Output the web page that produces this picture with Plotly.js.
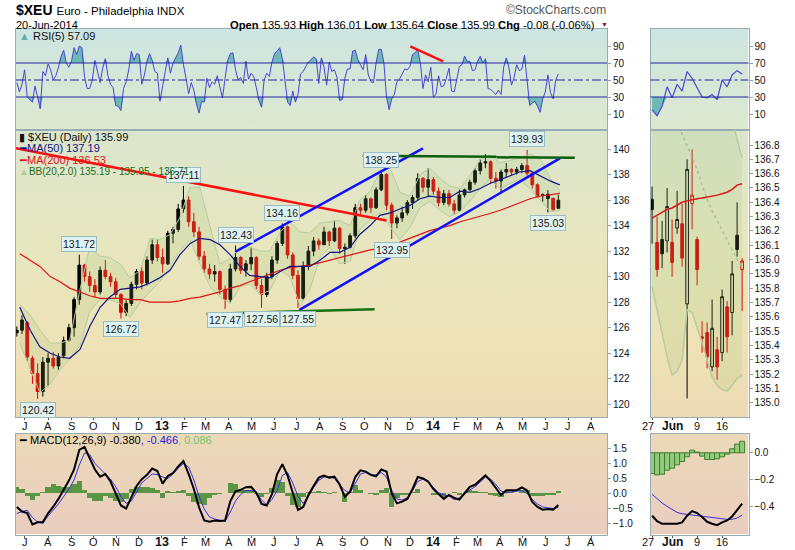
<!DOCTYPE html>
<html lang="en">
<head>
  <meta charset="UTF-8">
  <title>$XEU Euro - Philadelphia INDX</title>
  <script src="https://cdn.plot.ly/plotly-3.0.1.min.js"></script>
  <style>
    body { margin: 0; background: #ffffff; }
    #chart { width: 795px; height: 550px; }
  </style>
</head>
<body>
  <div id="chart"></div>
  <script>
    // weekly candles, one per week (dated on the Wednesday) from 20-Jun-2012 to 18-Jun-2014
    const weekStart = '2012-06-20';
    const wkOpen = [
      125.6, 125.8, 126.4, 123.6, 122.4, 121.0, 123.3, 123.6, 123.0, 123.8,
      125.0, 126.0, 128.2, 130.9, 130.0, 129.3, 128.8, 130.5, 130.0, 129.6,
      128.6, 127.2, 127.9, 129.4, 130.4, 129.5, 131.3, 132.5, 131.5, 131.0,
      133.4, 133.7, 135.3, 136.0, 134.3, 133.5, 131.6, 130.6, 130.2, 130.4,
      129.0, 128.2, 130.6, 131.5, 130.5, 131.0, 131.5, 129.3, 128.6, 130.0,
      131.3, 132.6, 133.9, 131.7, 130.1, 128.3, 130.8, 132.0, 132.8, 132.5,
      133.5, 132.8, 133.8, 132.2, 132.3, 133.2, 135.4, 135.2, 136.1, 135.4,
      136.8, 138.0, 135.6, 134.2, 134.6, 135.0, 135.8, 136.2, 137.7, 137.0,
      137.6, 136.7, 135.8, 136.5, 135.7, 135.2, 136.4, 136.8, 137.4, 138.3,
      138.9, 139.0, 137.7, 137.5, 138.2, 138.4, 138.2, 138.4, 138.7, 138.1,
      137.2, 136.42, 136.12, 136.14, 135.35
    ];
    const wkHigh = [
      126.1, 127.0, 126.5, 123.8, 123.2, 123.7, 124.0, 124.1, 124.0, 125.3,
      126.3, 128.4, 131.72, 131.0, 130.4, 129.8, 130.8, 131.3, 130.3, 129.9,
      128.7, 128.2, 129.6, 130.6, 130.8, 131.6, 132.9, 132.9, 132.2, 133.6,
      133.9, 135.7, 137.11, 136.3, 135.0, 133.9, 132.0, 131.0, 130.9, 130.5,
      129.3, 131.0, 132.43, 131.6, 131.3, 132.3, 131.6, 129.8, 130.3, 131.6,
      132.8, 134.16, 134.0, 131.9, 130.5, 131.2, 132.4, 133.1, 133.0, 133.9,
      133.6, 134.4, 133.9, 132.6, 133.4, 135.7, 135.7, 136.4, 136.2, 137.0,
      138.25, 138.1, 135.8, 134.8, 135.5, 136.0, 136.4, 138.1, 137.8, 138.5,
      137.8, 137.0, 136.8, 136.8, 136.0, 136.8, 136.9, 137.6, 138.5, 139.2,
      139.6, 139.1, 138.2, 138.4, 138.9, 138.5, 138.6, 138.9, 139.93, 138.2,
      137.3, 136.52, 136.78, 136.16, 136.40
    ];
    const wkLow = [
      125.3, 125.5, 123.4, 121.6, 120.42, 120.6, 121.4, 122.8, 122.7, 123.6,
      124.9, 125.3, 127.8, 129.6, 128.8, 128.4, 128.6, 129.8, 129.2, 128.3,
      126.72, 126.9, 127.7, 129.0, 129.0, 129.3, 131.0, 131.2, 130.3, 130.9,
      132.6, 133.5, 135.0, 133.9, 133.1, 131.3, 130.3, 129.8, 129.6, 128.6,
      127.47, 128.0, 130.4, 130.2, 130.0, 130.5, 129.0, 127.56, 128.4, 129.8,
      131.0, 132.4, 131.4, 129.8, 127.55, 128.2, 130.5, 131.6, 132.1, 132.5,
      132.4, 132.7, 131.8, 131.0, 132.2, 133.0, 134.9, 135.0, 135.0, 135.3,
      136.7, 135.2, 132.95, 133.8, 134.3, 134.8, 135.3, 136.0, 136.6, 136.3,
      136.4, 135.5, 135.6, 135.5, 134.9, 135.1, 136.2, 136.7, 137.2, 138.0,
      138.5, 137.3, 136.9, 136.6, 137.8, 137.9, 138.0, 138.1, 137.9, 136.9,
      136.2, 135.88, 135.03, 135.17, 135.30
    ];
    const wkClose = [
      125.8, 126.6, 123.7, 122.4, 121.0, 123.3, 123.6, 123.0, 123.7, 125.0,
      126.0, 128.2, 130.9, 130.0, 129.3, 128.8, 130.5, 130.0, 129.6, 128.6,
      127.2, 127.9, 129.4, 130.4, 129.5, 131.3, 132.5, 131.5, 131.0, 133.4,
      133.7, 135.3, 136.0, 134.3, 133.5, 131.6, 130.6, 130.2, 130.4, 129.0,
      128.2, 130.6, 131.5, 130.5, 131.0, 131.5, 129.3, 128.6, 130.0, 131.3,
      132.6, 133.9, 131.7, 130.1, 128.3, 130.8, 132.0, 132.8, 132.5, 133.5,
      132.8, 133.8, 132.2, 132.3, 133.2, 135.4, 135.2, 136.1, 135.4, 136.8,
      138.0, 135.6, 134.2, 134.6, 135.0, 135.8, 136.2, 137.7, 137.0, 137.6,
      136.7, 135.8, 136.5, 135.7, 135.2, 136.4, 136.8, 137.4, 138.3, 138.9,
      139.0, 137.7, 137.5, 138.2, 138.4, 138.2, 138.4, 138.7, 138.1, 137.2,
      136.25, 136.37, 136.45, 135.25, 135.99
    ];

    // MACD(12,26,9), same weekly dates
    const macdLine = [
      -0.45, -0.6, -0.65, -1.03, -0.96, -0.95, -0.66, -0.44, -0.18, 0.13,
      0.43, 0.8, 1.45, 1.55, 1.2, 0.8, 0.56, 0.65, 0.4, 0.0,
      -0.4, -0.5, -0.1, 0.25, 0.48, 0.62, 0.83, 0.75, 0.33, 0.58,
      0.68, 0.9, 1.08, 0.65, 0.15, -0.46, -0.9, -0.94, -0.9, -0.92,
      -0.9, -0.26, 0.07, 0.12, 0.21, 0.22, 0.02, -0.35, -0.4, -0.02,
      0.65, 0.98, 0.6, -0.02, -0.55, -0.45, -0.05, 0.25, 0.53, 0.6,
      0.53, 0.56, 0.3, -0.11, 0.06, 0.55, 0.77, 0.73, 0.62, 0.57,
      0.8, 0.73, 0.0, -0.33, -0.27, -0.18, 0.15, 0.55, 0.5, 0.4,
      0.15, -0.02, -0.18, -0.05, -0.15, -0.2, 0.0, 0.22, 0.29, 0.45,
      0.6, 0.42, 0.2, -0.05, 0.11, 0.11, 0.11, 0.2, 0.1, -0.28,
      -0.45, -0.54, -0.52, -0.54, -0.38
    ];
    const macdSignal = [
      -0.67, -0.6, -0.56, -0.8, -0.95, -1.0, -0.75, -0.55, -0.35, -0.1,
      0.15, 0.45, 0.95, 1.35, 1.3, 1.0, 0.83, 0.65, 0.48, 0.22,
      -0.1, -0.33, -0.25, 0.05, 0.35, 0.5, 0.65, 0.63, 0.55, 0.5,
      0.65, 0.85, 1.0, 0.88, 0.45, -0.1, -0.52, -0.78, -0.85, -0.89,
      -0.93, -0.62, -0.25, -0.03, 0.1, 0.1, 0.05, -0.22, -0.38, -0.2,
      0.1, 0.6, 0.7, 0.35, -0.1, -0.33, -0.1, 0.2, 0.44, 0.55,
      0.56, 0.5, 0.3, 0.1, 0.02, 0.35, 0.65, 0.7, 0.63, 0.62,
      0.7, 0.55, 0.1, -0.18, -0.22, -0.14, 0.1, 0.4, 0.48, 0.38,
      0.2, 0.02, -0.05, -0.08, -0.2, -0.15, -0.02, 0.12, 0.22, 0.4,
      0.55, 0.48, 0.3, 0.08, 0.02, 0.06, 0.08, 0.1, 0.0, -0.2,
      -0.35, -0.45, -0.48, -0.5, -0.466
    ];
    const macdHist = [
      0.22, 0.15, -0.09, -0.23, -0.1, 0.05, 0.2, 0.3, 0.25, 0.2,
      0.22, 0.3, 0.42, 0.1, -0.15, -0.25, -0.25, -0.1, -0.15, -0.25,
      -0.3, -0.17, 0.15, 0.2, 0.2, 0.22, 0.18, 0.12, -0.15, 0.08,
      0.05, 0.08, 0.1, -0.1, -0.3, -0.36, -0.38, -0.16, -0.05, -0.03,
      0.03, 0.36, 0.32, 0.15, 0.11, 0.12, -0.03, -0.13, -0.02, 0.18,
      0.45, 0.38, -0.1, -0.37, -0.45, -0.12, 0.05, 0.05, 0.09, 0.05,
      -0.03, 0.06, 0.0, -0.28, 0.04, 0.28, 0.12, 0.03, -0.01, -0.05,
      0.1, 0.18, -0.45, -0.15, -0.05, -0.04, 0.05, 0.15, 0.02, 0.02,
      -0.05, -0.04, -0.13, 0.03, 0.05, -0.05, 0.02, 0.1, 0.07, 0.05,
      0.05, -0.06, -0.1, -0.13, 0.09, 0.05, 0.03, 0.1, 0.1, -0.08,
      -0.1, -0.09, -0.04, -0.04, 0.086
    ];

    // RSI(5), two readings a week from 20-Jun-2012
    const rsi5 = [
      47, 36, 45, 62, 30, 27, 24, 43, 30, 16,
      60, 55, 69, 62, 50, 55, 65, 78, 85, 70,
      65, 72, 88, 80, 90, 88, 54, 40, 40, 50,
      73, 58, 47, 64, 75, 55, 45, 41, 20, 19,
      14, 40, 48, 62, 84, 73, 81, 80, 45, 56,
      72, 81, 73, 60, 58, 25, 44, 60, 76, 58,
      70, 76, 82, 91, 68, 52, 34, 47, 38, 22,
      11, 25, 24, 52, 41, 48, 45, 55, 43, 29,
      52, 73, 81, 82, 62, 50, 53, 46, 72, 51,
      58, 54, 41, 26, 18, 50, 58, 54, 71, 81,
      84, 88, 75, 49, 24, 20, 37, 24, 33, 57,
      60, 66, 71, 74, 77, 75, 46, 76, 65, 44,
      71, 60, 62, 53, 26, 27, 52, 63, 63, 84,
      85, 74, 67, 62, 80, 56, 48, 47, 70, 86,
      86, 70, 30, 15, 28, 33, 48, 51, 57, 63,
      62, 66, 80, 82, 86, 70, 40, 56, 48, 65,
      30, 33, 55, 42, 43, 52, 64, 37, 36, 50,
      66, 68, 78, 72, 72, 61, 62, 72, 78, 70,
      75, 40, 39, 36, 33, 38, 33, 65, 76, 65,
      44, 53, 68, 61, 63, 79, 50, 20, 23, 25,
      19, 12, 28, 36, 56, 35, 28, 50, 57.09
    ];

    // moving averages and Bollinger bands
    const indDates = [
      '2012-06-24', '2012-07-08', '2012-07-21', '2012-08-04', '2012-08-17', '2012-08-30', '2012-09-13',
      '2012-09-26', '2012-10-10', '2012-10-23', '2012-11-06', '2012-11-19', '2012-12-03', '2012-12-16',
      '2012-12-29', '2013-01-12', '2013-01-25', '2013-02-08', '2013-02-21', '2013-03-07', '2013-03-20',
      '2013-04-03', '2013-04-16', '2013-04-29', '2013-05-13', '2013-05-26', '2013-06-09', '2013-06-22',
      '2013-07-06', '2013-07-19', '2013-08-02', '2013-08-15', '2013-08-28', '2013-09-11', '2013-09-24',
      '2013-10-08', '2013-10-21', '2013-11-04', '2013-11-17', '2013-12-01', '2013-12-14', '2013-12-27',
      '2014-01-10', '2014-01-23', '2014-02-06', '2014-02-19', '2014-03-05', '2014-03-18', '2014-04-01',
      '2014-04-14', '2014-04-27', '2014-05-11', '2014-05-24', '2014-06-07', '2014-06-20'
    ];
    const ma50 = [
      127.6, 125.8, 124.5, 124.0, 123.7, 123.6, 124.3, 126.1, 127.6, 128.4, 129.0, 129.1, 129.2, 129.5,
      129.9, 130.5, 131.7, 132.6, 133.0, 132.9, 132.5, 131.7, 130.8, 130.1, 130.0, 129.9, 130.4, 130.8,
      130.8, 130.8, 131.3, 131.9, 131.9, 132.3, 133.3, 134.0, 134.8, 135.0, 135.3, 135.6, 136.1, 136.3,
      136.2, 136.2, 136.7, 136.6, 136.9, 137.3, 137.6, 137.9, 138.2, 138.3, 137.9, 137.5, 137.19
    ];
    const ma200 = [
      131.8, 131.3, 130.8, 130.0, 129.6, 129.1, 128.8, 128.5, 128.3, 128.3, 128.3, 128.2, 128.2, 128.0,
      128.0, 128.0, 128.1, 128.3, 128.4, 128.6, 128.8, 129.1, 129.3, 129.6, 129.9, 130.2, 130.5, 130.7,
      130.8, 130.9, 131.1, 131.3, 131.5, 131.7, 131.9, 132.1, 132.2, 132.4, 132.7, 133.0, 133.3, 133.6,
      133.8, 134.0, 134.3, 134.5, 134.75, 134.95, 135.2, 135.5, 135.8, 136.1, 136.3, 136.45, 136.53
    ];
    const bbUpper = [
      127.8, 127.0, 125.8, 124.8, 124.8, 125.0, 129.0, 132.3, 131.6, 131.5, 131.0, 129.9, 130.5, 133.0,
      132.9, 133.3, 134.6, 137.0, 137.0, 134.0, 131.0, 131.4, 132.3, 132.3, 132.0, 132.0, 133.5, 134.3,
      133.5, 133.4, 134.2, 134.3, 134.4, 134.0, 136.0, 136.7, 138.2, 138.5, 136.6, 136.3, 138.0, 138.5,
      137.7, 137.1, 136.9, 137.9, 139.2, 139.5, 138.9, 139.1, 139.3, 139.6, 139.3, 137.7, 136.71
    ];
    const bbLower = [
      124.8, 122.7, 120.9, 121.6, 122.7, 123.5, 124.6, 127.3, 128.2, 128.2, 127.9, 126.8, 128.0, 128.8,
      129.6, 130.8, 132.0, 132.9, 131.0, 129.2, 128.4, 127.9, 129.2, 129.4, 128.6, 128.9, 130.5, 130.0,
      127.7, 129.0, 131.6, 132.3, 131.0, 131.2, 133.7, 134.4, 135.0, 133.9, 132.9, 133.9, 135.4, 135.9,
      135.2, 134.7, 135.1, 135.9, 136.9, 137.6, 136.9, 137.3, 137.6, 136.9, 136.0, 135.1, 135.19
    ];

    // peak / trough labels (index into the weekly candles)
    const labelIdx = [4, 12, 20, 32, 40, 42, 47, 51, 54, 70, 72, 98, 102];
    const labelVal = [120.42, 131.72, 126.72, 137.11, 127.47, 132.43, 127.56, 134.16, 127.55, 138.25, 132.95, 139.93, 135.03];
    const labelSide = [-1, 1, -1, 1, -1, 1, -1, 1, -1, 1, -1, 1, -1];

    // hand-drawn trend lines
    const redLineX = ['2012-05-28', '2013-10-30'];
    const redLineY = [140.31, 134.39];
    const blueTopX = ['2013-04-10', '2013-12-18'];
    const blueTopY = [131.96, 140.05];
    const blueLowX = ['2013-07-05', '2014-06-20'];
    const blueLowY = [127.39, 139.27];
    const greenLowX = ['2013-03-02', '2013-10-14'];
    const greenLowY = [127.08, 127.45];
    const greenTopX = ['2013-09-28', '2014-03-27', null, '2014-03-27', '2014-07-10'];
    const greenTopY = [139.48, 139.40, null, 139.35, 139.32];
    const rsiLineX = ['2013-12-01', '2014-01-14'];
    const rsiLineY = [89.6, 72];

    // zoomed panel: daily bars 27-May-2014 .. 20-Jun-2014
    const dayText = ['27', '<b>Jun</b>', '9', '16'];
    const dayTickIdx = [0, 4, 9, 14];
    const dPrevClose = 136.25;
    const dOpen = [136.42, 136.12, 136.14, 136.13, 136.12, 136.22, 136.25, 135.69, 136.39, 136.14, 135.46, 135.49, 135.25, 135.37, 135.35, 135.67, 135.63, 136.17, 135.93];
    const dHigh = [136.51, 136.30, 136.27, 136.50, 136.28, 136.48, 136.39, 136.70, 136.77, 136.16, 135.57, 135.56, 135.72, 135.46, 135.79, 135.71, 135.99, 136.40, 136.01];
    const dLow = [136.11, 135.88, 135.94, 136.05, 135.88, 136.18, 135.95, 135.03, 136.21, 135.82, 135.35, 135.24, 135.22, 135.16, 135.29, 135.35, 135.47, 136.02, 135.64];
    const dClose = [136.35, 135.93, 136.04, 136.37, 135.98, 136.28, 136.01, 136.63, 136.45, 135.93, 135.45, 135.32, 135.52, 135.25, 135.74, 135.46, 135.90, 136.07, 135.99];
    const dMa200 = [136.29, 136.31, 136.33, 136.35, 136.36, 136.38, 136.40, 136.41, 136.42, 136.425, 136.43, 136.435, 136.44, 136.45, 136.46, 136.47, 136.49, 136.52, 136.53];
    const dBbUpper = [138.9, 138.8, 138.7, 138.5, 138.3, 138.1, 137.95, 137.8, 137.65, 137.5, 137.4, 137.3, 137.2, 137.15, 137.1, 137.05, 136.97, 136.83, 136.71];
    const dBbMid = [137.35, 137.28, 137.2, 137.12, 137.04, 136.96, 136.88, 136.80, 136.72, 136.63, 136.52, 136.42, 136.34, 136.27, 136.2, 136.13, 136.07, 136.0, 135.95];
    const dBbLower = [135.81, 135.65, 135.48, 135.32, 135.19, 135.22, 135.3, 135.65, 135.63, 135.53, 135.42, 135.3, 135.18, 135.12, 135.09, 135.08, 135.12, 135.17, 135.19];
    const dRsi = [15, 8, 19, 42, 29, 45, 37, 60, 52, 40, 30, 29, 33, 27, 50, 42, 56, 61, 57.09];
    const dMacd = [-0.47, -0.51, -0.53, -0.53, -0.535, -0.53, -0.52, -0.47, -0.435, -0.45, -0.48, -0.515, -0.53, -0.54, -0.52, -0.505, -0.475, -0.43, -0.38];
    const dSignal = [-0.31, -0.345, -0.375, -0.4, -0.425, -0.445, -0.455, -0.46, -0.46, -0.465, -0.47, -0.475, -0.48, -0.487, -0.493, -0.497, -0.497, -0.487, -0.466];
    const dHist = [-0.155, -0.165, -0.16, -0.13, -0.115, -0.09, -0.065, -0.03, 0.02, 0.005, -0.025, -0.05, -0.05, -0.045, -0.03, -0.01, 0.03, 0.065, 0.086];

    const monthText = ['J', 'A', 'S', 'O', 'N', 'D', '<b>13</b>', 'F', 'M', 'A', 'M', 'J', 'J',
                       'A', 'S', 'O', 'N', 'D', '<b>14</b>', 'F', 'M', 'A', 'M', 'J', 'J', 'A'];

    // ---------------------------------------------------------------
    const FONT = 'Liberation Sans, Arial, sans-serif';
    const FRAME = '#96adb3';
    const DAY = 86400000;
    const t0 = Date.parse(weekStart + 'T00:00:00Z');
    const stamp = t => new Date(t).toISOString().slice(0, 16).replace('T', ' ');
    const weeks = wkClose.map((_, k) => stamp(t0 + 7 * k * DAY));
    const rsiDates = rsi5.map((_, j) => stamp(t0 + 3.5 * j * DAY));
    const monthTicks = monthText.map((_, m) => stamp(Date.UTC(2012, 6 + m, 1)));
    const days = dClose.map((_, i) => i);

    const W = 795, H = 550;
    const px = x => x / W;
    const py = y => 1 - y / H;
    const domL = [px(16), px(607)];
    const domR = [px(650.5), px(748.5)];
    const domRsi = [py(130), py(29)];
    const domPrice = [py(417), py(130)];
    const domMacd = [py(534.5), py(433.5)];
    const dateRange = ['2012-06-18 22:00', '2014-08-22 10:00'];
    const dayRange = [-0.32, 19.28];

    const pick = (arr, idx) => idx.map(i => arr[i]);
    const skip = { hoverinfo: 'skip', showlegend: false };

    function candles(idx, color, xs, o, h, l, c, xa, ya, hollowUp) {
      return Object.assign({
        type: 'candlestick', xaxis: xa, yaxis: ya,
        x: pick(xs, idx), open: pick(o, idx), high: pick(h, idx), low: pick(l, idx), close: pick(c, idx),
        increasing: { line: { color: color, width: 1 }, fillcolor: hollowUp ? 'rgba(0,0,0,0)' : color },
        decreasing: { line: { color: color, width: 1 }, fillcolor: color },
        whiskerwidth: 0
      }, skip);
    }

    function line(x, y, xa, ya, color, width, dash) {
      return Object.assign({
        type: 'scatter', mode: 'lines', x: x, y: y, xaxis: xa, yaxis: ya,
        line: { color: color, width: width, dash: dash || 'solid' }
      }, skip);
    }

    // fill of the RSI beyond a level (teal areas above 70 and below 30)
    function rsiZone(x, y, level, above, xa, ya) {
      return [
        Object.assign({ type: 'scatter', mode: 'lines', x: x, y: x.map(() => level), xaxis: xa, yaxis: ya, line: { width: 0 } }, skip),
        Object.assign({
          type: 'scatter', mode: 'lines', x: x, xaxis: xa, yaxis: ya, line: { width: 0 },
          y: y.map(v => above ? Math.max(v, level) : Math.min(v, level)),
          fill: 'tonexty', fillcolor: '#6fb9b5'
        }, skip)
      ];
    }

    function bands(x, lo, up, xa, ya, width) {
      return [
        line(x, lo, xa, ya, '#b7cd9f', width),
        Object.assign(line(x, up, xa, ya, '#b7cd9f', width), { fill: 'tonexty', fillcolor: 'rgba(150,190,110,0.16)' })
      ];
    }

    // split by close vs previous close (black = up, red = down)
    const wkUp = [], wkDn = [];
    wkClose.forEach((c, k) => (k === 0 || c >= wkClose[k - 1] ? wkUp : wkDn).push(k));
    const dUp = [], dDn = [];
    dClose.forEach((c, i) => (c >= (i === 0 ? dPrevClose : dClose[i - 1]) ? dUp : dDn).push(i));

    const traces = [
      // left RSI
      ...rsiZone(rsiDates, rsi5, 70, true, 'x', 'y'),
      ...rsiZone(rsiDates, rsi5, 30, false, 'x', 'y'),
      line(rsiDates, rsi5, 'x', 'y', '#4a45d2', 1),
      line(rsiLineX, rsiLineY, 'x', 'y', '#ff1010', 2.5),
      // left price
      ...bands(indDates, bbLower, bbUpper, 'x2', 'y2', 1),
      candles(wkUp, '#000000', weeks, wkOpen, wkHigh, wkLow, wkClose, 'x2', 'y2', false),
      candles(wkDn, '#d40000', weeks, wkOpen, wkHigh, wkLow, wkClose, 'x2', 'y2', false),
      line(indDates, ma200, 'x2', 'y2', '#e01414', 1.2),
      line(indDates, ma50, 'x2', 'y2', '#14148a', 1.2),
      line(redLineX, redLineY, 'x2', 'y2', '#ff1010', 2.5),
      line(blueTopX, blueTopY, 'x2', 'y2', '#1010ff', 2.5),
      line(blueLowX, blueLowY, 'x2', 'y2', '#1010ff', 2.5),
      line(greenLowX, greenLowY, 'x2', 'y2', '#137013', 2.5),
      line(greenTopX, greenTopY, 'x2', 'y2', '#0b600b', 2.5),
      // left MACD
      Object.assign({ type: 'bar', x: weeks, y: macdHist, xaxis: 'x3', yaxis: 'y3', width: 7 * DAY,
        marker: { color: '#5a9546', line: { width: 0 } } }, skip),
      line(weeks, macdSignal, 'x3', 'y3', '#3a2ee0', 1),
      line(weeks, macdLine, 'x3', 'y3', '#000000', 2),
      // right RSI
      ...rsiZone(days, dRsi, 70, true, 'x4', 'y4'),
      ...rsiZone(days, dRsi, 30, false, 'x4', 'y4'),
      line(days, dRsi, 'x4', 'y4', '#4a45d2', 1.2),
      // right price
      ...bands(days, dBbLower, dBbUpper, 'x5', 'y5', 1.5),
      line(days, dBbMid, 'x5', 'y5', '#a9c29a', 1.5, 'dot'),
      candles(dUp, '#000000', days, dOpen, dHigh, dLow, dClose, 'x5', 'y5', true),
      candles(dDn, '#d40000', days, dOpen, dHigh, dLow, dClose, 'x5', 'y5', true),
      line(days, dMa200, 'x5', 'y5', '#e01414', 1.5),
      // right MACD
      Object.assign({ type: 'bar', x: days, y: dHist, xaxis: 'x6', yaxis: 'y6', width: 1,
        marker: { color: '#93cb7c', line: { color: '#3d7d30', width: 1 } } }, skip),
      line(days, dSignal, 'x6', 'y6', '#3a2ee0', 1),
      line(days, dMacd, 'x6', 'y6', '#000000', 2)
    ];

    const tickFont = { family: FONT, size: 10, color: '#111' };

    // x tick labels are written as annotations below (so they sit where the original puts them)
    function xAxis(domain, anchor, range, vals, marks) {
      return {
        domain: domain, anchor: anchor, range: range, fixedrange: true,
        tickmode: 'array', tickvals: vals, showticklabels: false,
        ticks: marks ? 'outside' : '', ticklen: 2, tickcolor: '#555',
        showgrid: false, zeroline: false,
        showline: true, mirror: true, linecolor: FRAME, linewidth: 1,
        rangeslider: { visible: false }
      };
    }
    function yAxis(domain, anchor, range, vals, fmt) {
      return {
        domain: domain, anchor: anchor, range: range, fixedrange: true, side: 'right',
        tickmode: 'array', tickvals: vals, tickformat: fmt,
        ticks: 'outside', ticklen: 3, tickcolor: '#8aa3a9',
        showgrid: false, zeroline: false,
        showline: true, mirror: true, linecolor: FRAME, linewidth: 1,
        tickfont: tickFont
      };
    }

    const rsiTicks = [10, 30, 50, 70, 90];
    const priceTicks = [120, 122, 124, 126, 128, 130, 132, 134, 136, 138, 140];
    const macdTicks = [-1, -0.5, 0, 0.5, 1, 1.5];
    const dPriceTicks = [135.0, 135.1, 135.2, 135.3, 135.4, 135.5, 135.6, 135.7, 135.8, 135.9,
                         136.0, 136.1, 136.2, 136.3, 136.4, 136.5, 136.6, 136.7, 136.8];
    const dMacdTicks = [-0.4, -0.2, 0];

    // panel backgrounds (vertical gradients)
    function gradient(stops) {
      const s = stops.map(st => '<stop offset="' + st[0] + '" stop-color="' + st[1] + '"/>').join('');
      const svg = '<svg xmlns="http://www.w3.org/2000/svg" width="100" height="100" viewBox="0 0 100 100" preserveAspectRatio="none">' +
        '<defs><linearGradient id="g" x1="0" y1="0" x2="0" y2="1">' + s + '</linearGradient></defs>' +
        '<rect width="100" height="100" fill="url(#g)"/></svg>';
      return 'data:image/svg+xml;base64,' + btoa(svg);
    }
    const gRsi = gradient([[0, '#cde5e1'], [1, '#dde9cf']]);
    const gPrice = gradient([[0, '#dbe5cd'], [0.4, '#e7e6bf'], [0.75, '#eee2b6'], [1, '#eddab3']]);
    const gMacd = gradient([[0, '#ecd9b8'], [1, '#e9cdbf']]);
    const images = [];
    [[domL], [domR]].forEach(([dx]) => {
      [[gRsi, domRsi], [gPrice, domPrice], [gMacd, domMacd]].forEach(([src, dy]) => {
        images.push({ source: src, xref: 'paper', yref: 'paper', x: dx[0], y: dy[1],
          sizex: dx[1] - dx[0], sizey: dy[1] - dy[0], sizing: 'stretch',
          xanchor: 'left', yanchor: 'top', layer: 'below' });
      });
    });

    // RSI reference levels
    const shapes = [];
    [['x domain', 'y'], ['x4 domain', 'y4']].forEach(([xr, yr]) => {
      [[70, 'solid'], [50, 'dashdot'], [30, 'solid']].forEach(([lv, dash]) => {
        shapes.push({ type: 'line', xref: xr, yref: yr, x0: 0, x1: 1, y0: lv, y1: lv,
          line: { color: '#2424a6', width: 1.2, dash: dash } });
      });
    });

    function txt(x, y, text, size, color, anchor) {
      return { xref: 'paper', yref: 'paper', x: px(x), y: py(y), text: text, showarrow: false,
        xanchor: anchor || 'left', yanchor: 'middle', borderpad: 0,
        font: { family: FONT, size: size, color: color } };
    }

    // value labels first, so the panel legends sit on top of them as in the original
    const notes = labelIdx.map((k, i) => ({
      xref: 'x2', yref: 'y2', x: weeks[k], y: labelVal[i], text: labelVal[i].toFixed(2),
      showarrow: false, yshift: 11 * labelSide[i], xanchor: 'center', yanchor: 'middle',
      bgcolor: '#def2f1', bordercolor: '#9bbcc0', borderwidth: 1, borderpad: 1,
      font: { family: FONT, size: 10.5, color: '#1a1a1a' }
    }));

    // month / day labels under the price and MACD panels
    [426, 542].forEach(yPix => {
      monthTicks.forEach((d, m) => notes.push({
        xref: 'x2', yref: 'paper', x: d, y: py(yPix), text: monthText[m], showarrow: false,
        xanchor: 'center', yanchor: 'middle', borderpad: 0,
        font: { family: FONT, size: monthText[m].startsWith('<b>') ? 12.5 : 11, color: '#111' }
      }));
      dayTickIdx.forEach((d, i) => notes.push({
        xref: 'x5', yref: 'paper', x: d, y: py(yPix), text: dayText[i], showarrow: false,
        xanchor: 'center', yanchor: 'middle', borderpad: 0, xshift: i === 0 ? -4 : 0,
        font: { family: FONT, size: i === 1 ? 12 : 11, color: '#111' }
      }));
    });

    notes.push(
      txt(15, 9.5, '<b>$XEU</b> <span style="font-size:11.5px">Euro - Philadelphia INDX</span>', 14, '#000'),
      txt(15, 24.5, '20-Jun-2014', 11, '#000'),
      txt(229, 24.5, '<b>Open</b> 135.93 <b>High</b> 136.01 <b>Low</b> 135.64 <b>Close</b> 135.99 <b>Chg</b> -0.08 (-0.06%)', 11.2, '#000'),
      txt(604, 25, '▼', 7, '#8b1538', 'center'),
      txt(607, 10, '©StockCharts.com', 12, '#555', 'right'),
      txt(18, 36, '<span style="color:#5fb0ac">▲</span> RSI(5) 57.09', 11, '#111'),
      txt(18, 137, '▮ $XEU (Daily) 135.99', 11, '#111'),
      txt(18, 147.5, '━MA(50) 137.19', 11, '#14148a'),
      txt(18, 159.5, '━MA(200) 136.53', 11, '#e01414'),
      txt(18, 171.5, '<span style="color:#b2cc98">▲</span>BB(20,2.0) 135.19 - 135.95 - 136.71', 10, '#1e6e1e'),
      txt(18, 440, '━ MACD(12,26,9) -0.380<span style="color:#2020e0">, -0.466</span><span style="color:#78c46a">, 0.086</span>', 11, '#000')
    );

    const layout = {
      width: W, height: H, margin: { l: 0, r: 0, t: 0, b: 0 },
      paper_bgcolor: '#ffffff', plot_bgcolor: 'rgba(0,0,0,0)',
      showlegend: false, boxgap: 0.25, bargap: 0, hovermode: false,
      xaxis: xAxis(domL, 'y', dateRange, monthTicks, false),
      xaxis2: xAxis(domL, 'y2', dateRange, monthTicks, true),
      xaxis3: xAxis(domL, 'y3', dateRange, monthTicks, true),
      yaxis: yAxis(domRsi, 'x', [-8.8, 110], rsiTicks, 'd'),
      yaxis2: yAxis(domPrice, 'x2', [119.0, 141.49], priceTicks, 'd'),
      yaxis3: yAxis(domMacd, 'x3', [-1.367, 2.0], macdTicks, '.1f'),
      xaxis4: xAxis(domR, 'y4', dayRange, dayTickIdx, false),
      xaxis5: xAxis(domR, 'y5', dayRange, dayTickIdx, true),
      xaxis6: xAxis(domR, 'y6', dayRange, dayTickIdx, true),
      yaxis4: yAxis(domRsi, 'x4', [-8.8, 110], rsiTicks, 'd'),
      yaxis5: yAxis(domPrice, 'x5', [134.9, 136.905], dPriceTicks, '.1f'),
      yaxis6: yAxis(domMacd, 'x6', [-0.61, 0.144], dMacdTicks, '.1f'),
      images: images,
      shapes: shapes,
      annotations: notes
    };

    Plotly.newPlot('chart', traces, layout, { staticPlot: true, displayModeBar: false });
  </script>
</body>
</html>
